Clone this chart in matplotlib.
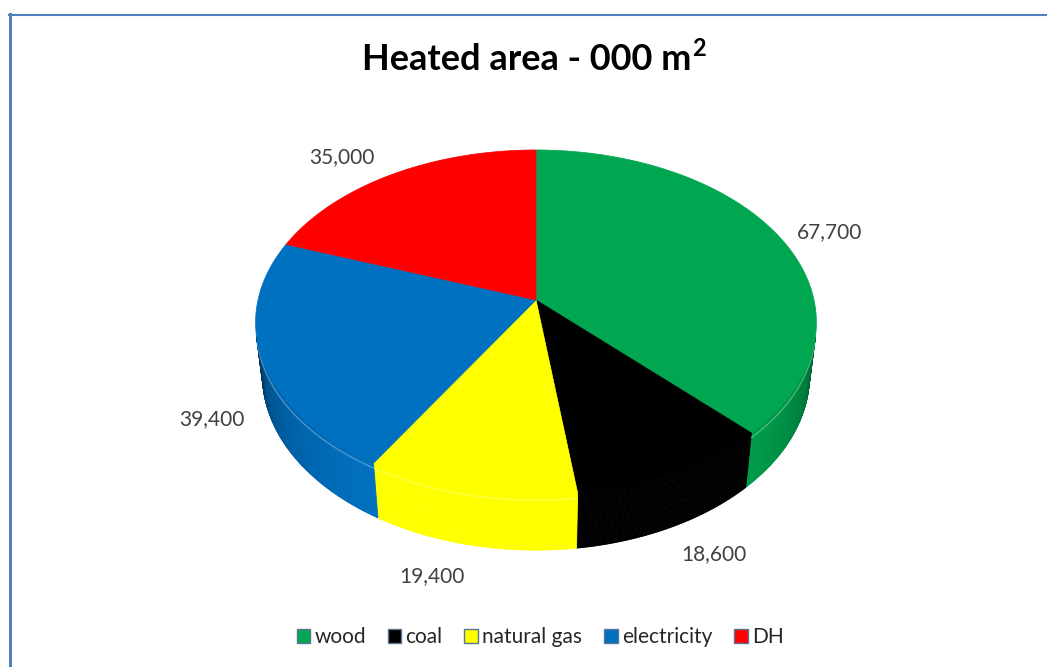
import numpy as np
import matplotlib.pyplot as plt
from matplotlib.patches import Polygon, Patch
from matplotlib.colors import to_rgb
from matplotlib.lines import Line2D

plt.rcParams["font.family"] = ["Lato", "DejaVu Sans"]

# heated area by heating source, thousand m2
fuels = ["wood", "coal", "natural gas", "electricity", "DH"]
area = [67700, 18600, 19400, 39400, 35000]
colors = ["#00A650", "#000000", "#FFFF00", "#0070C0", "#FF0000"]

# label nudges (px) away from the rim point at each slice's mid angle
label_nudge = [(49, -6), (43, 27), (-40, 31), (-57, 7), (-50, -17)]

W, H = 1047, 667
CX, CY = 536, 300          # apex of the top face
SCALE = 278
ELEV = np.radians(37.6)
DIST = 6.07
DEPTH = 0.245


def project(theta, r=1.0, z=0.0):
    u = r * np.cos(theta)
    v = r * np.sin(theta)
    sy = v * np.sin(ELEV) + z * np.cos(ELEV)
    w = DIST + v * np.cos(ELEV) - z * np.sin(ELEV)
    k = SCALE * DIST / w
    return CX + u * k, CY - sy * k


def shade(color, f):
    return tuple(np.clip(np.array(to_rgb(color)) * f, 0, 1))


def lighten(color, f):
    c = np.array(to_rgb(color))
    return tuple(c + (1 - c) * f)


fig = plt.figure(figsize=(W / 100, H / 100), dpi=100)
ax = fig.add_axes([0, 0, 1, 1])
ax.set_xlim(0, W)
ax.set_ylim(H, 0)
ax.axis("off")

total = float(sum(area))
edges = np.radians(90 - 360 * np.concatenate([[0], np.cumsum(area)]) / total)
sin_limit = -1.0 / (DIST * np.cos(ELEV))   # wall faces the camera below this

# outer walls
for i, (c0, c1) in enumerate(zip(edges[:-1], edges[1:])):
    th = np.linspace(c0, c1, max(int(np.degrees(c0 - c1) * 3), 2))
    for a, b in zip(th[:-1], th[1:]):
        m = 0.5 * (a + b)
        if np.sin(m) >= sin_limit:
            continue
        facing = (-np.sin(m) + sin_limit) / (1 + sin_limit)
        f = 0.45 + 0.6 * np.clip(facing, 0, 1) ** 0.45
        f = min(f, 1.0)
        col = shade(colors[i], f)
        xa, ya = project(a)
        xb, yb = project(b)
        xc, yc = project(b, z=-DEPTH)
        xd, yd = project(a, z=-DEPTH)
        ax.add_patch(Polygon([(xa, ya), (xb, yb), (xc, yc), (xd, yd)],
                             closed=True, facecolor=col, edgecolor=col,
                             linewidth=0.6, zorder=2))
    # bevel highlight along the top rim
    vis = th[np.sin(th) < sin_limit]
    if len(vis) > 1 and colors[i] != "#000000":
        hx, hy = project(vis, z=-DEPTH * 0.09)
        ax.plot(hx, hy, color=lighten(colors[i], 0.35), linewidth=1.0,
                alpha=0.8, zorder=3, solid_capstyle="butt")

# top faces
for i, (c0, c1) in enumerate(zip(edges[:-1], edges[1:])):
    th = np.linspace(c0, c1, 200)
    px, py = project(th)
    pts = [(CX, CY)] + list(zip(px, py))
    ax.add_patch(Polygon(pts, closed=True, facecolor=colors[i],
                         edgecolor=colors[i], linewidth=0.5, zorder=4))

# value labels
for i, (c0, c1) in enumerate(zip(edges[:-1], edges[1:])):
    mid = 0.5 * (c0 + c1)
    z = -DEPTH if np.sin(mid) < 0 else 0.0
    lx, ly = project(mid, z=z)
    dx, dy = label_nudge[i]
    ax.text(lx + dx, ly + dy, f"{area[i]:,}", ha="center", va="center",
            fontsize=15, color="#404040", zorder=6)

# title with a full-size superscript 2
title = ax.text(527, 60, "Heated area - 000 m", ha="center", va="center",
                fontsize=26, fontweight="bold", color="black")
fig.canvas.draw()
bb = title.get_window_extent()
ax.text(bb.x1, 48, "2", ha="left", va="center", fontsize=17,
        fontweight="bold", color="black")

handles = [Patch(facecolor=c, edgecolor="#5C7397", linewidth=1.0) for c in colors]
fig.legend(handles, fuels, loc="center", bbox_to_anchor=(540 / W, 1 - 637 / H),
           ncol=5, frameon=False, fontsize=15, handlelength=0.65,
           handleheight=0.65, handletextpad=0.2, columnspacing=1.05,
           labelcolor="#262626")

# chart area frame (left and top edges)
frame = "#4F81BD"
fig.add_artist(Line2D([9.5 / W, 9.5 / W], [0, 1 - 14 / H], color=frame,
                      linewidth=2.2, transform=fig.transFigure))
fig.add_artist(Line2D([8.5 / W, 1], [1 - 14.5 / H, 1 - 14.5 / H], color=frame,
                      linewidth=1.5, transform=fig.transFigure))

fig.savefig("out.png", dpi=100)
